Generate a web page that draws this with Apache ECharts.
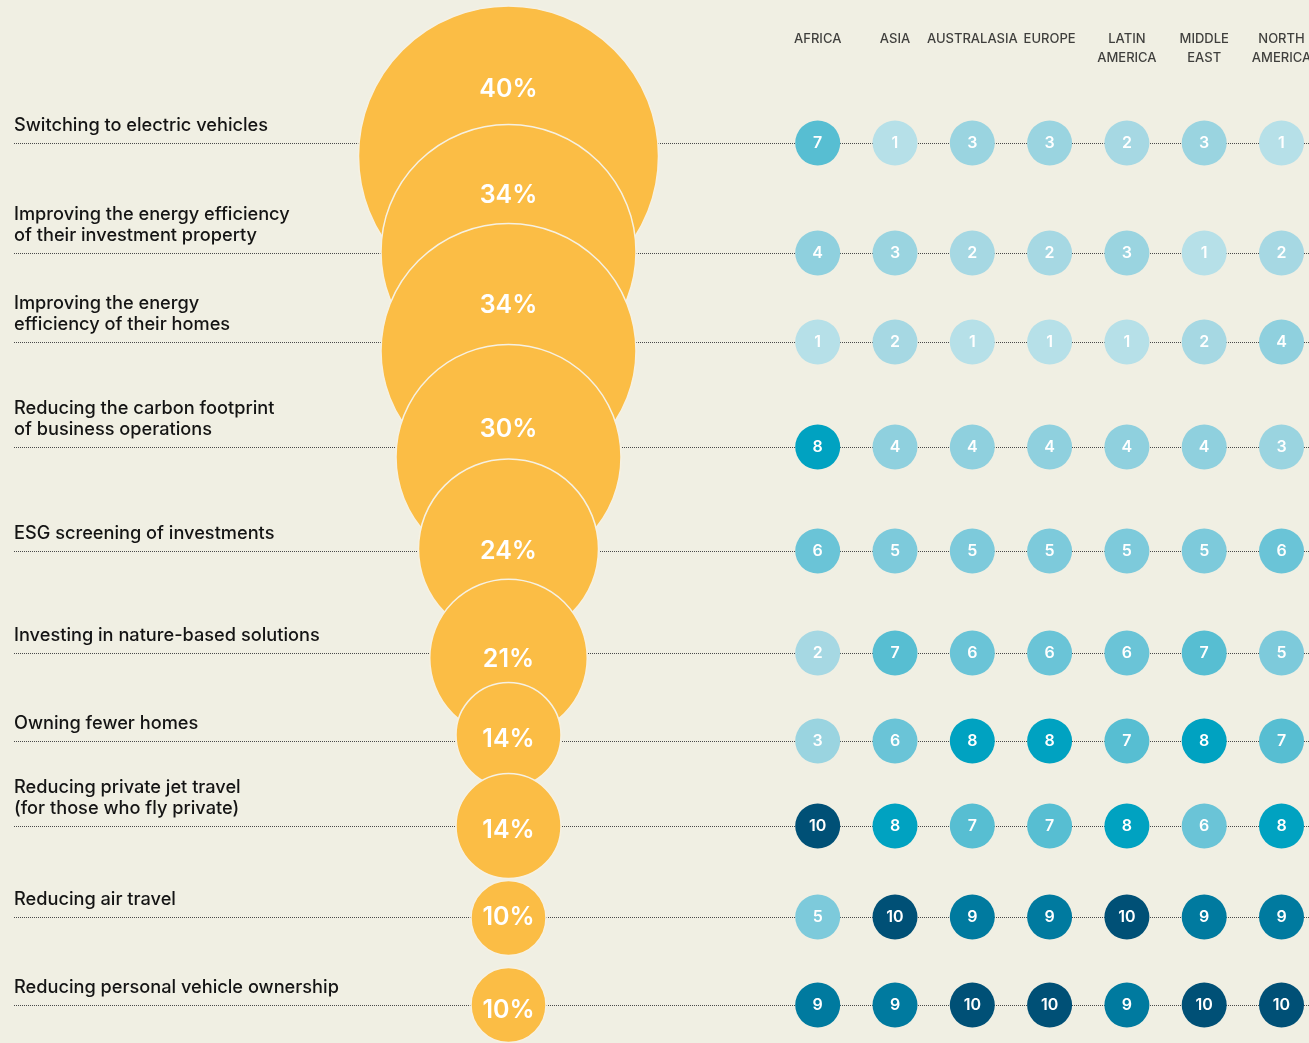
<!DOCTYPE html>
<html>
<head>
<meta charset="utf-8">
<script src="https://cdn.jsdelivr.net/npm/echarts@6/dist/echarts.min.js"></script>
<style>
  html, body { margin: 0; padding: 0; background: #F0EFE3; }
  #chart { width: 1309px; height: 1043px; }
</style>
</head>
<body>
<div id="chart"></div>
<script>
// actions, top to bottom
const actions = [
  'Switching to electric vehicles',
  'Improving the energy efficiency\nof their investment property',
  'Improving the energy\nefficiency of their homes',
  'Reducing the carbon footprint\nof business operations',
  'ESG screening of investments',
  'Investing in nature-based solutions',
  'Owning fewer homes',
  'Reducing private jet travel\n(for those who fly private)',
  'Reducing air travel',
  'Reducing personal vehicle ownership'
];

// share of respondents, %
const shares = [40, 34, 34, 30, 24, 21, 14, 14, 10, 10];

// rank of each action by region
const regions = ['AFRICA', 'ASIA', 'AUSTRALASIA', 'EUROPE', 'LATIN\nAMERICA', 'MIDDLE\nEAST', 'NORTH\nAMERICA'];
const africa       = [7, 4, 1, 8, 6, 2, 3, 10, 5, 9];
const asia         = [1, 3, 2, 4, 5, 7, 6, 8, 10, 9];
const australasia  = [3, 2, 1, 4, 5, 6, 8, 7, 9, 10];
const europe       = [3, 2, 1, 4, 5, 6, 8, 7, 9, 10];
const latinAmerica = [2, 3, 1, 4, 5, 6, 7, 8, 10, 9];
const middleEast   = [3, 1, 2, 4, 5, 7, 8, 6, 9, 10];
const northAmerica = [1, 2, 4, 3, 6, 5, 7, 8, 9, 10];
const rankCols = [africa, asia, australasia, europe, latinAmerica, middleEast, northAmerica];

// layout
const rowLineY = [143, 253, 342, 447, 551, 653, 741, 826, 917, 1007];
const bubbleShift = [13, -1, 9, 10, -2, 5, -6, 0, 1, 0];
const bubbleLabelShift = [-67, -57, -46, -28, 2, 1, 4, 4, -1, 5];
const plotLeft = 14, plotRight = 1309;
const bubbleX = 508.5, colStep = 77.3, firstCol = 4;
const xMin = -(bubbleX - plotLeft) / colStep;
const xMax = (plotRight - bubbleX) / colStep;

const rankColors = ['#B6E0E8', '#A6D8E3', '#9AD4E0', '#8FD0DE', '#7DCADB',
                    '#6AC4D7', '#57BED2', '#00A2C1', '#007A9F', '#005076'];

const FONT = 'Inter, "Noto Sans", sans-serif';

const grids = [], xAxes = [], yAxes = [], series = [];

actions.forEach((label, i) => {
  grids.push({ left: plotLeft, right: 0, top: rowLineY[i] - 40, height: 80 });
  xAxes.push({ type: 'value', gridIndex: i, min: xMin, max: xMax, show: false });
  yAxes.push({
    type: 'category', gridIndex: i, data: [label],
    axisLine: { show: false }, axisTick: { show: false }, splitLine: { show: false },
    axisLabel: {
      inside: true, margin: 0, align: 'left', verticalAlign: 'bottom',
      padding: [0, 0, 7, 0], lineHeight: 21,
      fontFamily: FONT, fontSize: 18.2, fontWeight: 500, color: '#141414'
    }
  });
  // dotted row rule
  series.push({
    type: 'scatter', xAxisIndex: i, yAxisIndex: i, data: [], z: 1, silent: true,
    markLine: {
      silent: true, symbol: ['none', 'none'], animation: false, z: 1,
      label: { show: false },
      lineStyle: { type: [1, 1], color: '#4a4a4a', width: 1 },
      data: [{ yAxis: 0 }]
    }
  });
});

// yellow bubbles, later rows on top
shares.forEach((s, i) => {
  series.push({
    type: 'scatter', xAxisIndex: i, yAxisIndex: i, z: 3, silent: true,
    symbolSize: v => shares[i] * 7.5,
    symbolOffset: [0, bubbleShift[i]],
    itemStyle: { color: '#FBBD45', borderColor: '#F6F1E2', borderWidth: 1.5, opacity: 1 },
    label: {
      show: true, position: 'inside', offset: [0, bubbleLabelShift[i]],
      formatter: s + '%', color: '#fff', fontFamily: FONT, fontSize: 25, fontWeight: 600
    },
    data: [[0, 0]]
  });
});

// rank dots
actions.forEach((label, i) => {
  series.push({
    type: 'scatter', xAxisIndex: i, yAxisIndex: i, z: 4, silent: true,
    symbolSize: 45,
    itemStyle: { color: p => rankColors[p.data.rank - 1], opacity: 1 },
    label: {
      show: true, position: 'inside', formatter: p => p.data.rank,
      color: '#fff', fontFamily: FONT, fontSize: 16, fontWeight: 600
    },
    data: rankCols.map((col, j) => ({ value: [firstCol + j, 0], rank: col[i] }))
  });
});

// region header: labels hung from invisible points above each dot column
const h = actions.length;
grids.push({ left: plotLeft, right: 0, top: 20, height: 20 });
xAxes.push({ type: 'value', gridIndex: h, min: xMin, max: xMax, show: false });
yAxes.push({ type: 'category', gridIndex: h, data: ['region'], show: false });
series.push({
  type: 'scatter', xAxisIndex: h, yAxisIndex: h, silent: true, symbolSize: 0,
  label: {
    show: true, position: 'inside', verticalAlign: 'top', align: 'center',
    formatter: p => p.data.name, lineHeight: 19,
    fontFamily: FONT, fontSize: 13, fontWeight: 500, color: '#111'
  },
  data: regions.map((name, j) => ({ name: name, value: [firstCol + j, 0] }))
});

const chart = echarts.init(document.getElementById('chart'));
chart.setOption({
  backgroundColor: '#F0EFE3',
  animation: false,
  grid: grids,
  xAxis: xAxes,
  yAxis: yAxes,
  series: series
});
</script>
</body>
</html>
